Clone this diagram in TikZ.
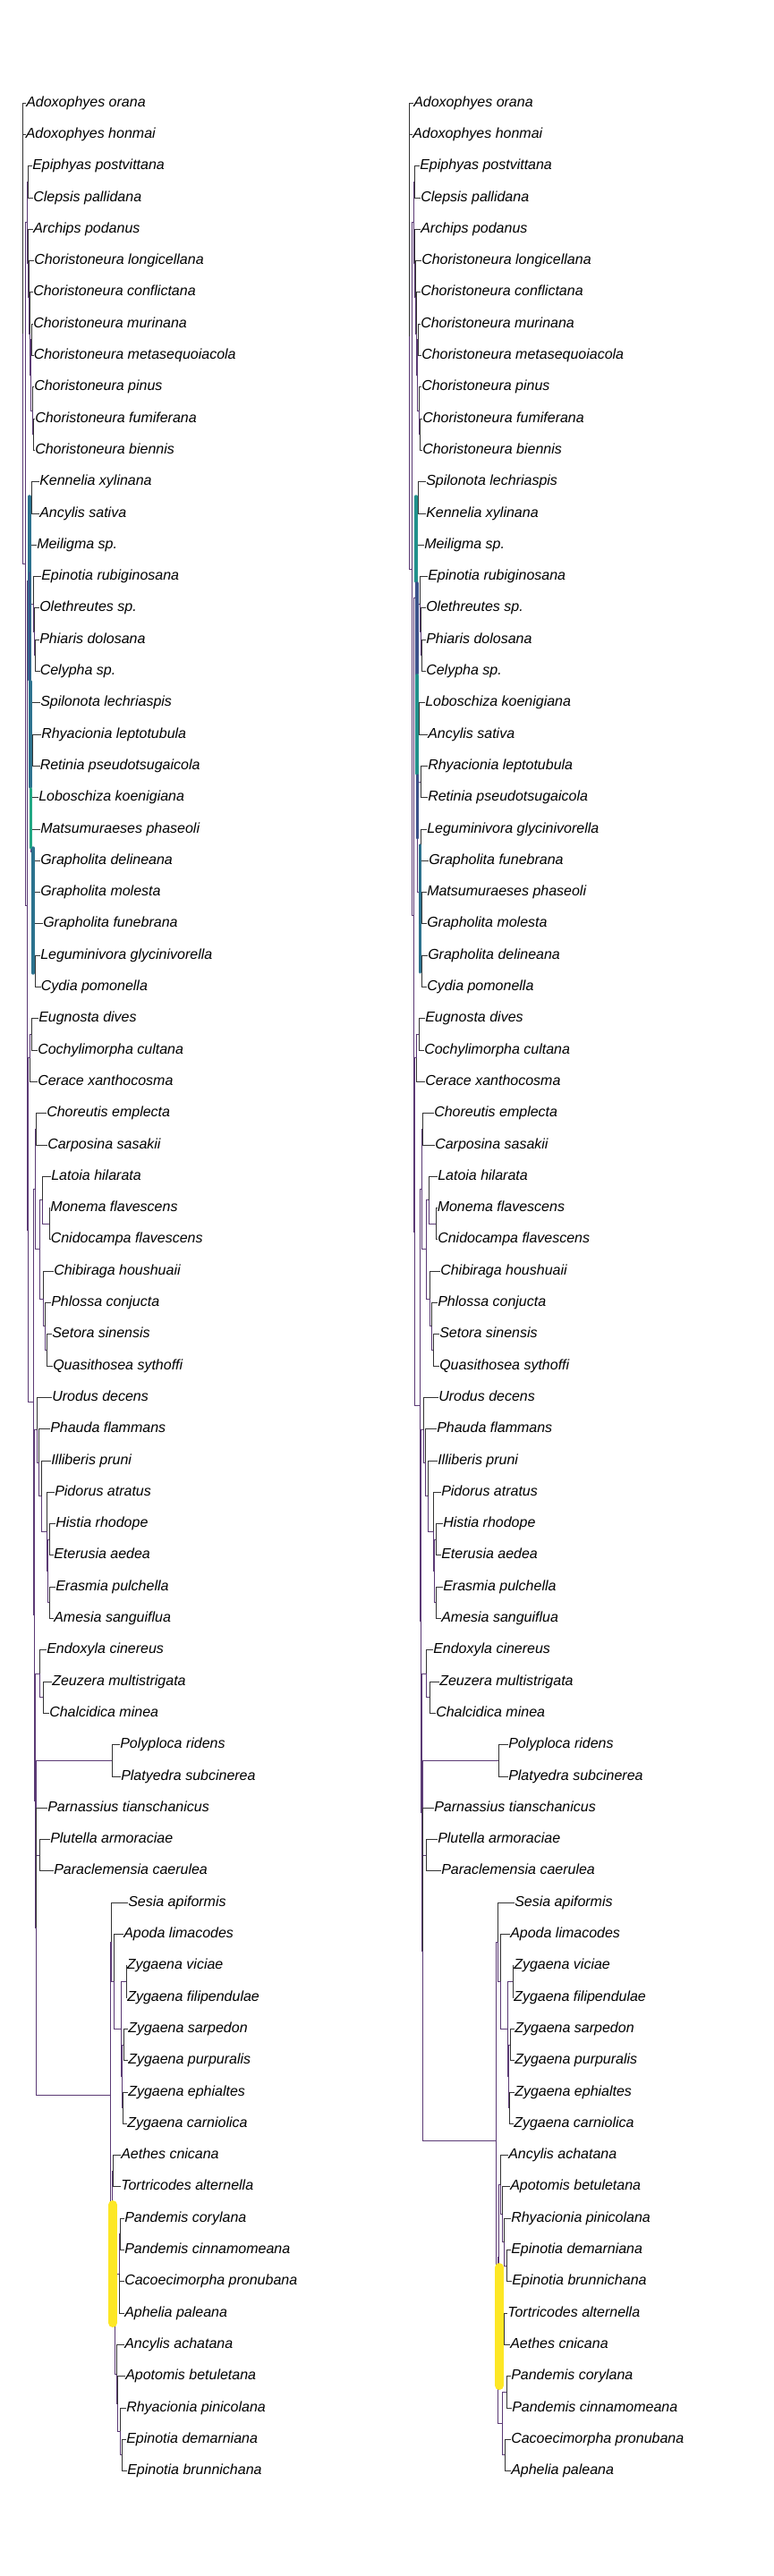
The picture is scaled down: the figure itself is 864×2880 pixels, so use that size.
\documentclass[tikz,border=0pt]{standalone}
\usepackage{fontspec}
\setmainfont{Liberation Sans}
\newcommand{\rowy}[1]{115+35.3*(#1-1)}
\definecolor{vpurple}{HTML}{5B3A75}
\definecolor{vteal}{HTML}{21918C}
\definecolor{vblue}{HTML}{2C728E}
\definecolor{vnavy}{HTML}{3B528B}
\definecolor{vgreen}{HTML}{22A884}
\definecolor{vyellow}{HTML}{FDE725}

\begin{document}
\begin{tikzpicture}[x=0.75pt, y=-0.75pt,
  tip/.style={anchor=west, inner sep=0pt, font=\fontsize{12}{14}\selectfont\itshape, text height=0.62em, text depth=0pt},
  twig/.style={draw=black!80, line width=0.6pt},
  branch/.style={draw=vpurple, line width=0.6pt},
  bar/.style={line width=2.6pt, line cap=round},
  wide/.style={line width=7.5pt, line cap=round}]
\useasboundingbox (0,0) rectangle (864,2880);

% left tree: tips
\foreach \tx/\nm [count=\i] in {29/Adoxophyes orana, 28.5/Adoxophyes honmai, 36/Epiphyas postvittana,
  37/Clepsis pallidana, 37/Archips podanus, 38/Choristoneura longicellana, 37/Choristoneura conflictana,
  37/Choristoneura murinana, 37.5/Choristoneura metasequoiacola, 38/Choristoneura pinus,
  39/Choristoneura fumiferana, 39/Choristoneura biennis, 44/Kennelia xylinana, 44/Ancylis sativa,
  41/Meiligma sp., 46/Epinotia rubiginosana, 44/Olethreutes sp., 44/Phiaris dolosana, 44.5/Celypha sp.,
  45/Spilonota lechriaspis, 46/Rhyacionia leptotubula, 44.5/Retinia pseudotsugaicola,
  43/Loboschiza koenigiana, 45/Matsumuraeses phaseoli, 45/Grapholita delineana, 45/Grapholita molesta,
  48/Grapholita funebrana, 45/Leguminivora glycinivorella, 45.5/Cydia pomonella, 43/Eugnosta dives,
  42/Cochylimorpha cultana, 42/Cerace xanthocosma, 52/Choreutis emplecta, 53/Carposina sasakii,
  57/Latoia hilarata, 56/Monema flavescens, 56.5/Cnidocampa flavescens, 60/Chibiraga houshuaii,
  57/Phlossa conjucta, 58/Setora sinensis, 59/Quasithosea sythoffi, 58/Urodus decens, 56/Phauda flammans,
  57/Illiberis pruni, 61/Pidorus atratus, 62/Histia rhodope, 60/Eterusia aedea, 62/Erasmia pulchella,
  60/Amesia sanguiflua, 52/Endoxyla cinereus, 58/Zeuzera multistrigata, 55/Chalcidica minea,
  134/Polyploca ridens, 135/Platyedra subcinerea, 53/Parnassius tianschanicus, 56/Plutella armoraciae,
  60/Paraclemensia caerulea, 143/Sesia apiformis, 138/Apoda limacodes, 141.5/Zygaena viciae,
  142/Zygaena filipendulae, 143/Zygaena sarpedon, 143/Zygaena purpuralis, 143/Zygaena ephialtes,
  142/Zygaena carniolica, 135/Aethes cnicana, 135/Tortricodes alternella, 139/Pandemis corylana,
  139/Pandemis cinnamomeana, 139/Cacoecimorpha pronubana, 139/Aphelia paleana, 139/Ancylis achatana,
  140/Apotomis betuletana, 141/Rhyacionia pinicolana, 141/Epinotia demarniana, 142/Epinotia brunnichana}
  \node[tip] (l\i) at (\tx,{\rowy{\i}}) {\nm};

% left tree: inner nodes
\foreach \n/\x/\k in {Lr/25/8.3, LA/28/15.6, LTort/30/4.79, LEC/31/3.5, LArch/31.5/6.08, LCa/32.5/7.16,
  LCb/33.5/8.31, LCc/34.5/9.63, LC89/35/8.5, LCd/36/10.75, LC1112/37/11.5,
  LB/30.5/26.41, LOl/32/16.13, LKA/35/13.5, LMS/33/18.75, LM/34.5/15.94, LE/37/16.88, LOPC/38/17.75,
  LPC/39/18.5, LS/34/21.55, LRG/34.5/23.11, LRR/36/21.5, LG/35/24.72, LLM/35.5/23.5, LGd/37/25.94,
  LGm/38/26.88, LGf/38.5/27.75, LLC/39/28.5,
  LC/31.5/36.7, LTC/33/31.25, LEuC/35/30.5, LDup/37.5/42.15, LCL/39/35.4, LCC/40/33.5, LLim/44.5/37.31,
  LLat/47/35.75, LMC/55/36.5, LChi/48/38.88, LPh/50/39.75, LSQ/52/40.5, LSp1/38.5/48.9, LUr/41/43.03,
  LPhI/43/44.06, LIll/46/45.13, LPid/52/46.25, LHEA/53.5/47.5, LHE/55/46.5, LEA/55.5/48.5,
  LSp2/39.5/54.78, LEZ/44/50.75, LZC/48/51.5, LSp3/40.5/58.8, LPP/125/53.5, LPlP/44/56.5,
  LBig/123/64.09, LSes/124/59.25, LAp/127/60.5, LZyg/135/62, LZv/141/60.5, LZse/136/63.5, LZs/138/62.5,
  LZe/137/64.5, LTL/125/68.92, LAe/126.5/66.5, LRT/128/71.35, LTo/133/69.75, LPan/134/68.5,
  LAA/130/72.94, LAp2/131/73.88, LRE/134/74.75, LEE/136/75.5}
  \coordinate (\n) at (\x,{\rowy{\k}});

\foreach \p/\c in {Lr/LA, LA/LTort, LA/LB, LTort/LEC, LTort/LArch, LArch/LCa, LCa/LCb, LCb/LCc,
  LCc/LC89, LCc/LCd, LCd/LC1112, LB/LOl, LB/LC, LOl/LKA, LOl/LMS, LMS/LM, LMS/LS, LM/LE, LE/LOPC,
  LOPC/LPC, LS/LRG, LRG/LRR, LRG/LG, LG/LLM, LG/LGd, LGd/LGm, LGm/LGf, LGf/LLC, LC/LTC, LC/LDup,
  LTC/LEuC, LDup/LCL, LDup/LSp1, LCL/LCC, LCL/LLim, LLim/LLat, LLim/LChi, LLat/LMC, LChi/LPh,
  LPh/LSQ, LSp1/LUr, LSp1/LSp2, LUr/LPhI, LPhI/LIll, LIll/LPid, LPid/LHEA, LHEA/LHE, LHEA/LEA,
  LSp2/LEZ, LSp2/LSp3, LEZ/LZC, LSp3/LPP, LSp3/LPlP, LSp3/LBig, LBig/LSes, LBig/LTL, LSes/LAp,
  LAp/LZyg, LZyg/LZv, LZyg/LZse, LZse/LZs, LZse/LZe, LTL/LAe, LTL/LRT, LRT/LTo, LRT/LAA, LTo/LPan,
  LAA/LAp2, LAp2/LRE, LRE/LEE}
  \draw[branch] (\p) |- (\c);

\foreach \p/\c in {Lr/1, Lr/2, LEC/3, LEC/4, LArch/5, LCa/6, LCb/7, LC89/8, LC89/9, LCd/10, LC1112/11,
  LC1112/12, LKA/13, LKA/14, LM/15, LE/16, LOPC/17, LPC/18, LPC/19, LS/20, LRR/21, LRR/22, LLM/23,
  LLM/24, LGd/25, LGm/26, LGf/27, LLC/28, LLC/29, LEuC/30, LEuC/31, LTC/32, LCC/33, LCC/34, LLat/35,
  LMC/36, LMC/37, LChi/38, LPh/39, LSQ/40, LSQ/41, LUr/42, LPhI/43, LIll/44, LPid/45, LHE/46, LHE/47,
  LEA/48, LEA/49, LEZ/50, LZC/51, LZC/52, LPP/53, LPP/54, LSp3/55, LPlP/56, LPlP/57, LSes/58, LAp/59,
  LZv/60, LZv/61, LZs/62, LZs/63, LZe/64, LZe/65, LAe/66, LAe/67, LPan/68, LPan/69, LTo/70, LTo/71,
  LAA/72, LAp2/73, LRE/74, LEE/75, LEE/76}
  \draw[twig] (\p) |- (l\c);

% right tree: tips
\foreach \tx/\nm [count=\i] in {462/Adoxophyes orana, 461/Adoxophyes honmai, 469/Epiphyas postvittana,
  470/Clepsis pallidana, 470/Archips podanus, 471/Choristoneura longicellana, 470/Choristoneura conflictana,
  470/Choristoneura murinana, 471/Choristoneura metasequoiacola, 471/Choristoneura pinus,
  472/Choristoneura fumiferana, 472/Choristoneura biennis, 476/Spilonota lechriaspis, 476/Kennelia xylinana,
  474/Meiligma sp., 478/Epinotia rubiginosana, 476/Olethreutes sp., 476/Phiaris dolosana, 476/Celypha sp.,
  475/Loboschiza koenigiana, 478/Ancylis sativa, 478/Rhyacionia leptotubula, 478/Retinia pseudotsugaicola,
  477/Leguminivora glycinivorella, 479/Grapholita funebrana, 477/Matsumuraeses phaseoli,
  477/Grapholita molesta, 478/Grapholita delineana, 477/Cydia pomonella, 475/Eugnosta dives,
  474/Cochylimorpha cultana, 475/Cerace xanthocosma, 485/Choreutis emplecta, 486/Carposina sasakii,
  489/Latoia hilarata, 488.5/Monema flavescens, 489/Cnidocampa flavescens, 492/Chibiraga houshuaii,
  489/Phlossa conjucta, 491/Setora sinensis, 491/Quasithosea sythoffi, 490/Urodus decens,
  488/Phauda flammans, 489/Illiberis pruni, 493/Pidorus atratus, 495/Histia rhodope, 493/Eterusia aedea,
  495/Erasmia pulchella, 493/Amesia sanguiflua, 484/Endoxyla cinereus, 491/Zeuzera multistrigata,
  487/Chalcidica minea, 568/Polyploca ridens, 568/Platyedra subcinerea, 485/Parnassius tianschanicus,
  489/Plutella armoraciae, 493/Paraclemensia caerulea, 575/Sesia apiformis, 570/Apoda limacodes,
  574/Zygaena viciae, 574/Zygaena filipendulae, 575/Zygaena sarpedon, 575/Zygaena purpuralis,
  575/Zygaena ephialtes, 574/Zygaena carniolica, 568/Ancylis achatana, 570/Apotomis betuletana,
  571/Rhyacionia pinicolana, 571/Epinotia demarniana, 572/Epinotia brunnichana, 567/Tortricodes alternella,
  570/Aethes cnicana, 571/Pandemis corylana, 572/Pandemis cinnamomeana, 571/Cacoecimorpha pronubana,
  571/Aphelia paleana}
  \node[tip] (r\i) at (\tx,{\rowy{\i}}) {\nm};

% right tree: inner nodes
\foreach \n/\x/\k in {Rr/457/8.38, RA/460/15.76, RTort/462/4.79, REC/463/3.5, RArch/463.5/6.08,
  RCa/464.5/7.16, RCb/465.5/8.31, RCc/466.5/9.63, RC89/467/8.5, RCd/468/10.75, RC1112/469/11.5,
  RB/462.5/26.72, ROl/464/16.68, RSK/467/13.5, RMS/465/19.85, RM/466.5/15.94, RE/469/16.88,
  ROPC/470/17.75, RPC/471/18.5, RLRG/466/23.75, RLR/467/21.5, RLA/468.5/20.5, RRR/470/22.5,
  RGr/468/26, R2425/470/24.5, R2629/470.5/27.5, R2627/471/26.5, R2829/471.5/28.5,
  RC/463.5/36.75, RTC/465/31.25, REuC/468/30.5, RDup/469.5/42.25, RCL/471/35.4, RCC/472/33.5,
  RLim/476.5/37.31, RLat/479/35.75, RMC/487.5/36.5, RChi/480/38.88, RPh/482/39.75, RSQ/484/40.5,
  RSp1/470.5/49.09, RUr/473/43.03, RPhI/475/44.06, RIll/478/45.13, RPid/484/46.25, RHEA/485.5/47.5,
  RHE/487/46.5, REA/487.5/48.5, RSp2/471.5/55.14, REZ/476/50.75, RZC/480/51.5, RSp3/472.5/59.53,
  RPP/557/53.5, RPlP/476/56.5, RBig/554/65.55, RSes/556/59.25, RAp/559/60.5, RZyg/567/62,
  RZv/573/60.5, RZse/568/63.5, RZs/570/62.5, RZe/569/64.5, RTL/556/71.86, RT1/557.5/69.22,
  R66/559/66.94, R67/561/67.88, R68/563/68.75, R6970/566/69.5, RAT/563/71.5, RPanR/561.5/74.5,
  R7374/566/73.5, R7576/564/75.5}
  \coordinate (\n) at (\x,{\rowy{\k}});

\foreach \p/\c in {Rr/RA, RA/RTort, RA/RB, RTort/REC, RTort/RArch, RArch/RCa, RCa/RCb, RCb/RCc,
  RCc/RC89, RCc/RCd, RCd/RC1112, RB/ROl, RB/RC, ROl/RSK, ROl/RMS, RMS/RM, RMS/RLRG, RM/RE, RE/ROPC,
  ROPC/RPC, RLRG/RLR, RLRG/RGr, RLR/RLA, RLR/RRR, RGr/R2425, RGr/R2629, R2629/R2627, R2629/R2829,
  RC/RTC, RC/RDup, RTC/REuC, RDup/RCL, RDup/RSp1, RCL/RCC, RCL/RLim, RLim/RLat, RLim/RChi,
  RLat/RMC, RChi/RPh, RPh/RSQ, RSp1/RUr, RSp1/RSp2, RUr/RPhI, RPhI/RIll, RIll/RPid, RPid/RHEA,
  RHEA/RHE, RHEA/REA, RSp2/REZ, RSp2/RSp3, REZ/RZC, RSp3/RPP, RSp3/RPlP, RSp3/RBig, RBig/RSes,
  RBig/RTL, RSes/RAp, RAp/RZyg, RZyg/RZv, RZyg/RZse, RZse/RZs, RZse/RZe, RTL/RT1, RTL/RPanR,
  RT1/R66, RT1/RAT, R66/R67, R67/R68, R68/R6970, RPanR/R7374, RPanR/R7576}
  \draw[branch] (\p) |- (\c);

\foreach \p/\c in {Rr/1, Rr/2, REC/3, REC/4, RArch/5, RCa/6, RCb/7, RC89/8, RC89/9, RCd/10, RC1112/11,
  RC1112/12, RSK/13, RSK/14, RM/15, RE/16, ROPC/17, RPC/18, RPC/19, RLA/20, RLA/21, RRR/22, RRR/23,
  R2425/24, R2425/25, R2627/26, R2627/27, R2829/28, R2829/29, REuC/30, REuC/31, RTC/32, RCC/33,
  RCC/34, RLat/35, RMC/36, RMC/37, RChi/38, RPh/39, RSQ/40, RSQ/41, RUr/42, RPhI/43, RIll/44,
  RPid/45, RHE/46, RHE/47, REA/48, REA/49, REZ/50, RZC/51, RZC/52, RPP/53, RPP/54, RSp3/55,
  RPlP/56, RPlP/57, RSes/58, RAp/59, RZv/60, RZv/61, RZs/62, RZs/63, RZe/64, RZe/65, R66/66,
  R67/67, R68/68, R6970/69, R6970/70, RAT/71, RAT/72, R7374/73, R7374/74, R7576/75, R7576/76}
  \draw[twig] (\p) |- (r\c);

% highlighted branches
\draw[bar, vblue] (33,555) -- (33,760);
\draw[bar, vnavy, line width=1.5pt] (32.5,640) -- (32.5,760);
\draw[bar, vblue] (34,762) -- (34,880);
\draw[bar, vgreen] (34.5,882) -- (34.5,948);
\draw[bar, vblue] (37,948) -- (37,1088);
\draw[wide, vyellow] (126,2465) -- (126,2597);
\draw[bar, vteal] (465,555) -- (465,650);
\draw[bar, vnavy] (466,652) -- (466,753);
\draw[bar, vteal] (466,755) -- (466,865);
\draw[bar, vnavy] (466.5,867) -- (466.5,937);
\draw[bar, vblue] (469.5,945) -- (469.5,1087);
\draw[wide, vyellow] (558,2535) -- (558,2667);
\end{tikzpicture}
\end{document}
